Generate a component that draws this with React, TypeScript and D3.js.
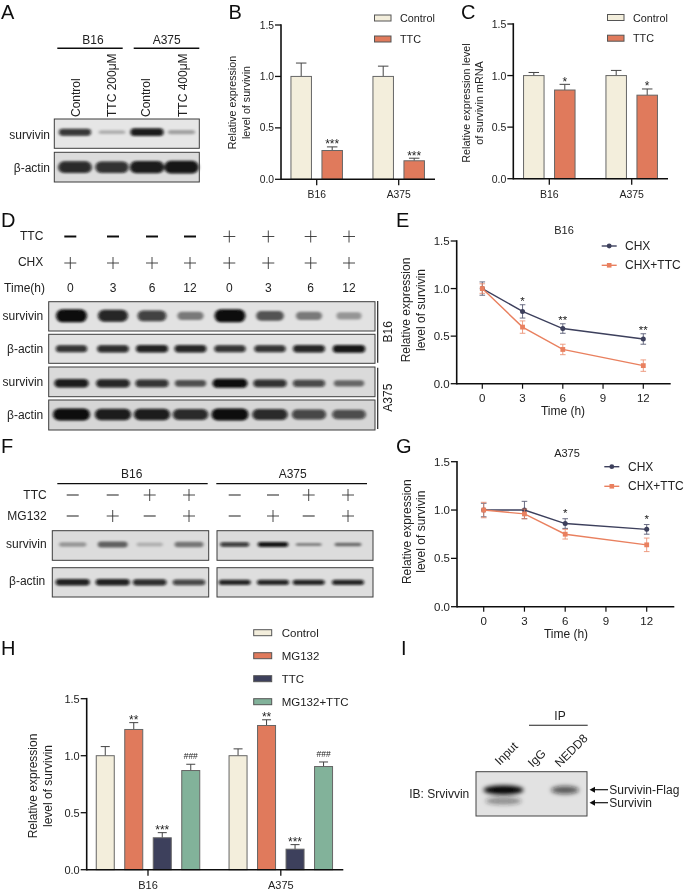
import React from 'react';
import * as d3 from 'd3';

// ---------- data ----------
const cellLines = ['B16', 'A375'];
const yTicks = [0, 0.5, 1, 1.5];
const timeTicks = [0, 3, 6, 9, 12];
const times = [0, 3, 6, 12];

const twoSeries = ['Control', 'TTC'];
const bControl = [1.0, 1.0];
const bControlErr = [0.13, 0.1];
const bTTC = [0.28, 0.18];
const bTTCErr = [0.035, 0.025];
const bSig = ['***', '***'];

const cControl = [1.0, 1.0];
const cControlErr = [0.03, 0.05];
const cTTC = [0.86, 0.81];
const cTTCErr = [0.055, 0.06];
const cSig = ['*', '*'];

const eCHX = [1.0, 0.76, 0.58, 0.47];
const eCHXErr = [0.07, 0.07, 0.05, 0.055];
const eTTC = [1.0, 0.595, 0.36, 0.19];
const eTTCErr = [0.05, 0.065, 0.055, 0.06];
const eSig = ['', '*', '**', '**'];

const gCHX = [1.0, 1.0, 0.86, 0.8];
const gCHXErr = [0.07, 0.09, 0.05, 0.05];
const gTTC = [1.0, 0.96, 0.75, 0.64];
const gTTCErr = [0.08, 0.05, 0.05, 0.07];
const gSig = ['', '', '*', '*'];

const fourSeries = ['Control', 'MG132', 'TTC', 'MG132+TTC'];
const hControl = [1.0, 1.0];
const hControlErr = [0.08, 0.06];
const hMG = [1.23, 1.265];
const hMGErr = [0.06, 0.05];
const hTTC = [0.28, 0.18];
const hTTCErr = [0.045, 0.04];
const hBoth = [0.87, 0.905];
const hBothErr = [0.055, 0.04];
const hSigMG = ['**', '**'];
const hSigTTC = ['***', '***'];
const hSigBoth = ['###', '###'];

// blot band densities (0..1), per lane
const aSurvivin = [0.8, 0.22, 0.92, 0.28];
const aActin = [0.85, 0.82, 0.92, 0.95];
const dTTC = ['-', '-', '-', '-', '+', '+', '+', '+'];
const dCHX = ['+', '+', '+', '+', '+', '+', '+', '+'];
const dTime = ['0', '3', '6', '12', '0', '3', '6', '12'];
const dB16Survivin = [1, 0.88, 0.75, 0.45, 1, 0.62, 0.45, 0.32];
const dB16Actin = [0.82, 0.85, 0.9, 0.88, 0.82, 0.82, 0.88, 0.95];
const dA375Survivin = [0.92, 0.88, 0.8, 0.62, 1, 0.82, 0.7, 0.52];
const dA375Actin = [1, 0.92, 0.92, 0.85, 1, 0.85, 0.72, 0.68];
const fTTC = ['-', '-', '+', '+'];
const fMG = ['-', '+', '-', '+'];
const fB16Survivin = [0.3, 0.55, 0.18, 0.45];
const fB16Actin = [0.9, 0.9, 0.85, 0.72];
const fA375Survivin = [0.78, 0.95, 0.4, 0.5];
const fA375Actin = [0.88, 0.88, 0.88, 0.88];

// ---------- style ----------
const FONT = '"Liberation Sans", Arial, sans-serif';
const INK = '#222';
const CREAM = '#F3EEDC';
const ORANGE = '#E07A5C';
const NAVY = '#3C3F5C';
const GREEN = '#82B29A';
const LINE_ORANGE = '#E9805F';

const T = ({ x, y, s = 12, a = 'start', r, c = INK, children }: any) => (
  <text
    x={x}
    y={y}
    fontSize={s}
    textAnchor={a}
    dominantBaseline="central"
    fill={c}
    transform={r ? `rotate(${r} ${x} ${y})` : undefined}
  >
    {children}
  </text>
);

const PanelLabel = ({ x, y, children }: any) => (
  <text x={x} y={y} fontSize={20} fill="#111">
    {children}
  </text>
);

const YAxis = ({ y, x0, fs }: any) => (
  <g>
    <line x1={x0} x2={x0} y1={y(1.5) - 0.8} y2={y(0) + 0.8} stroke="#111" strokeWidth={1.6} />
    {yTicks.map((t) => (
      <g key={t}>
        <line x1={x0 - 6} x2={x0} y1={y(t)} y2={y(t)} stroke="#111" strokeWidth={1.3} />
        <T x={x0 - 7} y={y(t)} s={fs} a="end">
          {d3.format('.1f')(t)}
        </T>
      </g>
    ))}
  </g>
);

const BarChart = ({ cx, x0, x1, yTop, yBase, series, spread, barW, fs, capW, sigFs }: any) => {
  const y = d3.scaleLinear().domain([0, 1.5]).range([yBase, yTop]);
  const gx = d3.scalePoint<string>().domain(cellLines).range(cx);
  const sx = d3
    .scalePoint<string>()
    .domain(series.map((s: any) => s.name))
    .range([-spread, spread]);
  return (
    <g>
      {series.map((s: any) =>
        cellLines.map((g, i) => {
          const c = (gx(g) as number) + (sx(s.name) as number);
          const top = y(s.values[i] + s.errs[i]);
          const sig = s.sig ? s.sig[i] : '';
          const hash = sig.startsWith('#');
          return (
            <g key={s.name + g}>
              <line x1={c} x2={c} y1={y(s.values[i])} y2={top} stroke="#444" strokeWidth={1} />
              <line x1={c - capW / 2} x2={c + capW / 2} y1={top} y2={top} stroke="#444" strokeWidth={1} />
              <rect
                x={c - barW / 2}
                y={y(s.values[i])}
                width={barW}
                height={y(0) - y(s.values[i])}
                fill={s.color}
                stroke="#666"
                strokeWidth={1}
              />
              {sig && (
                <text
                  x={c}
                  y={hash ? top - 5 : top + 1.5}
                  fontSize={hash ? 8.5 : sigFs}
                  textAnchor="middle"
                  fill={INK}
                >
                  {sig}
                </text>
              )}
            </g>
          );
        })
      )}
      <line x1={x0} x2={x1} y1={yBase} y2={yBase} stroke="#111" strokeWidth={1.6} />
      {cellLines.map((g) => (
        <g key={g}>
          <line x1={gx(g)} x2={gx(g)} y1={yBase} y2={yBase + 6} stroke="#111" strokeWidth={1.3} />
          <T x={gx(g)} y={yBase + 15} s={fs} a="middle">
            {g}
          </T>
        </g>
      ))}
      <YAxis y={y} x0={x0} fs={fs} />
    </g>
  );
};

const LegendSwatch = ({ x, y, w = 16.5, h = 6, color, label, tx, fs = 10.8 }: any) => (
  <g>
    <rect x={x} y={y - h / 2} width={w} height={h} fill={color} stroke="#555" strokeWidth={1} />
    <T x={tx} y={y} s={fs}>
      {label}
    </T>
  </g>
);

const LineChart = ({ x0, x1, xa, xb, yTop, yBase, series, sig, sigGap }: any) => {
  const y = d3.scaleLinear().domain([0, 1.5]).range([yBase, yTop]);
  const x = d3.scaleLinear().domain([0, 12]).range([xa, xb]);
  const line = d3
    .line<number>()
    .x((_, i) => x(times[i]))
    .y((v) => y(v));
  return (
    <g>
      {series.map((s: any) => (
        <g key={s.name}>
          {s.values.map((v: number, i: number) => (
            <g key={i} stroke={s.color} strokeWidth={0.9} opacity={0.85}>
              <line x1={x(times[i])} x2={x(times[i])} y1={y(v + s.errs[i])} y2={y(v - s.errs[i])} />
              <line x1={x(times[i]) - 2.8} x2={x(times[i]) + 2.8} y1={y(v + s.errs[i])} y2={y(v + s.errs[i])} />
              <line x1={x(times[i]) - 2.8} x2={x(times[i]) + 2.8} y1={y(v - s.errs[i])} y2={y(v - s.errs[i])} />
            </g>
          ))}
          <path d={line(s.values) as string} fill="none" stroke={s.color} strokeWidth={1.4} />
          {s.values.map((v: number, i: number) =>
            s.marker === 'circle' ? (
              <circle key={i} cx={x(times[i])} cy={y(v)} r={2.5} fill={s.color} />
            ) : (
              <rect key={i} x={x(times[i]) - 2.4} y={y(v) - 2.4} width={4.8} height={4.8} fill={s.color} />
            )
          )}
        </g>
      ))}
      {sig.map((m: string, i: number) =>
        m ? (
          <text
            key={i}
            x={x(times[i])}
            y={y(series[0].values[i] + series[0].errs[i]) + sigGap}
            fontSize={11.5}
            textAnchor="middle"
            fill={INK}
          >
            {m}
          </text>
        ) : null
      )}
      <line x1={x0} x2={x1} y1={yBase} y2={yBase} stroke="#111" strokeWidth={1.5} />
      {timeTicks.map((t) => (
        <g key={t}>
          <line x1={x(t)} x2={x(t)} y1={yBase} y2={yBase + 5} stroke="#111" strokeWidth={1.2} />
          <T x={x(t)} y={yBase + 14} s={11.5} a="middle">
            {t}
          </T>
        </g>
      ))}
      <YAxis y={y} x0={x0} fs={11.5} />
    </g>
  );
};

const LineLegend = ({ x, tx, y, color, marker, label }: any) => (
  <g>
    <line x1={x} x2={x + 15} y1={y} y2={y} stroke={color} strokeWidth={1.4} />
    {marker === 'circle' ? (
      <circle cx={x + 7.5} cy={y} r={2.4} fill={color} />
    ) : (
      <rect x={x + 5.2} y={y - 2.3} width={4.6} height={4.6} fill={color} />
    )}
    <T x={tx} y={y} s={12}>
      {label}
    </T>
  </g>
);

const AxisTitle = ({ x1, x2, y, lines, s = 12 }: any) => (
  <g>
    <T x={x1} y={y} s={s} a="middle" r={-90}>
      {lines[0]}
    </T>
    <T x={x2} y={y} s={s} a="middle" r={-90}>
      {lines[1]}
    </T>
  </g>
);

// width / height / opacity of a band follow its density
const bandW = d3.scaleLinear().domain([0, 1]).range([0.72, 1]);
const bandH = d3.scaleLinear().domain([0, 1]).range([0.35, 1]);
const bandO = d3.scaleLinear().domain([0, 1]).range([0.03, 1]);

const Blot = ({ x, y, w, h, lanes, values, maxW, maxH, bg = '#DEDEDE', dy = 0, blur = 'b1' }: any) => (
  <g>
    <rect x={x} y={y} width={w} height={h} fill={bg} />
    <g filter={`url(#${blur})`}>
      {values.map((v: number, i: number) => {
        const bw = bandW(v) * maxW;
        const bh = bandH(v) * maxH;
        return (
          <rect
            key={i}
            x={lanes[i] - bw / 2}
            y={y + h / 2 + dy - bh / 2}
            width={bw}
            height={bh}
            rx={bh / 2}
            fill="#0a0a0a"
            opacity={bandO(v)}
          />
        );
      })}
    </g>
    <rect x={x} y={y} width={w} height={h} fill="none" stroke="#3c3c3c" strokeWidth={1} />
  </g>
);

const Sign = ({ x, y, kind, size = 12, minusW = 2, color = '#333' }: any) => (
  <g>
    {kind === '-' ? (
      <line x1={x - size / 2} x2={x + size / 2} y1={y} y2={y} stroke={minusW > 1.5 ? '#111' : color} strokeWidth={minusW} />
    ) : (
      <g stroke={color} strokeWidth={0.9}>
        <line x1={x - size / 2} x2={x + size / 2} y1={y} y2={y} />
        <line x1={x} x2={x} y1={y - size / 2} y2={y + size / 2} />
      </g>
    )}
  </g>
);

const aLanes = [75, 112, 147, 181.5];
const dLanes = [71.5, 113, 152, 190.5, 230, 270, 309, 349];
const fLanesL = [72.7, 112.7, 149.7, 189];
const fLanesR = [234.7, 273, 308.7, 348];
const dSignLanes = [70.3, 113, 152, 190, 229.3, 268.3, 310.7, 349];

export default function App() {
  const bSeries = [
    { name: 'Control', values: bControl, errs: bControlErr, color: CREAM },
    { name: 'TTC', values: bTTC, errs: bTTCErr, color: ORANGE, sig: bSig },
  ];
  const cSeries = [
    { name: 'Control', values: cControl, errs: cControlErr, color: CREAM },
    { name: 'TTC', values: cTTC, errs: cTTCErr, color: ORANGE, sig: cSig },
  ];
  const hSeries = [
    { name: 'Control', values: hControl, errs: hControlErr, color: CREAM },
    { name: 'MG132', values: hMG, errs: hMGErr, color: ORANGE, sig: hSigMG },
    { name: 'TTC', values: hTTC, errs: hTTCErr, color: NAVY, sig: hSigTTC },
    { name: 'MG132+TTC', values: hBoth, errs: hBothErr, color: GREEN, sig: hSigBoth },
  ];
  const eSeries = [
    { name: 'CHX', values: eCHX, errs: eCHXErr, color: NAVY, marker: 'circle' },
    { name: 'CHX+TTC', values: eTTC, errs: eTTCErr, color: LINE_ORANGE, marker: 'square' },
  ];
  const gSeries = [
    { name: 'CHX', values: gCHX, errs: gCHXErr, color: NAVY, marker: 'circle' },
    { name: 'CHX+TTC', values: gTTC, errs: gTTCErr, color: LINE_ORANGE, marker: 'square' },
  ];

  return (
    <svg
      width={685}
      height={890}
      viewBox="0 0 685 890"
      style={{ position: 'absolute', left: 0, top: 0, background: '#fff', fontFamily: FONT }}
    >
      <defs>
        <filter id="b1" x="-20%" y="-60%" width="140%" height="220%">
          <feGaussianBlur stdDeviation="1.5 1.1" />
        </filter>
        <filter id="b2" x="-20%" y="-60%" width="140%" height="220%">
          <feGaussianBlur stdDeviation="2.2" />
        </filter>
        <filter id="soft" x="0" y="0" width="100%" height="100%">
          <feGaussianBlur stdDeviation="0.35" />
        </filter>
      </defs>
      <g filter="url(#soft)">
        <rect x={0} y={0} width={685} height={890} fill="#fff" />

        {/* A */}
        <PanelLabel x={1} y={18.5}>A</PanelLabel>
        <T x={93} y={40} s={12} a="middle">B16</T>
        <T x={166.7} y={40} s={12} a="middle">A375</T>
        <line x1={57.3} x2={122.7} y1={48.3} y2={48.3} stroke="#111" strokeWidth={1.5} />
        <line x1={133.7} x2={199.3} y1={48.3} y2={48.3} stroke="#111" strokeWidth={1.5} />
        {['Control', 'TTC 200μM', 'Control', 'TTC 400μM'].map((t, i) => (
          <T key={i} x={[76, 112, 146, 183.3][i]} y={117} s={12} r={-90}>
            {t}
          </T>
        ))}
        <Blot x={54.3} y={119} w={145} h={29.3} lanes={aLanes} values={aSurvivin} maxW={34} maxH={8} bg="#E6E6E6" dy={-1.5} />
        <Blot x={54.3} y={152.3} w={145} h={29.7} lanes={aLanes} values={aActin} maxW={35} maxH={13} bg="#DCDCDC" />
        <T x={50} y={135} a="end">survivin</T>
        <T x={50} y={167.5} a="end">β-actin</T>

        {/* B */}
        <PanelLabel x={228.5} y={18.5}>B</PanelLabel>
        <BarChart cx={[316.7, 398.7]} x0={281} x1={435} yTop={25} yBase={179.3} series={bSeries} spread={15.5} barW={20.5} fs={10.3} capW={10.5} sigFs={12} />
        <AxisTitle x1={232} x2={246} y={102.5} s={10.7} lines={['Relative expression', 'level of survivin']} />
        {twoSeries.map((s, i) => (
          <LegendSwatch key={s} x={374.5} y={18 + i * 21} color={bSeries[i].color} label={s} tx={400} />
        ))}

        {/* C */}
        <PanelLabel x={461} y={18.5}>C</PanelLabel>
        <BarChart cx={[549.3, 631.7]} x0={513.3} x1={668} yTop={24} yBase={178.7} series={cSeries} spread={15.5} barW={20.5} fs={10.5} capW={10.5} sigFs={12} />
        <AxisTitle x1={465.5} x2={479} y={103} s={10.8} lines={['Relative expression level', 'of survivin mRNA']} />
        {twoSeries.map((s, i) => (
          <LegendSwatch key={s} x={607.5} y={17.5 + i * 20.7} color={cSeries[i].color} label={s} tx={633} />
        ))}

        {/* D */}
        <PanelLabel x={1} y={226.5}>D</PanelLabel>
        <T x={43.3} y={236} a="end">TTC</T>
        <T x={43.3} y={262.3} a="end">CHX</T>
        <T x={45} y={288} a="end">Time(h)</T>
        {dSignLanes.map((x, i) => (
          <g key={i}>
            <Sign x={x} y={236.5} kind={dTTC[i]} />
            <Sign x={x} y={263} kind={dCHX[i]} />
            <T x={x} y={288} a="middle">{dTime[i]}</T>
          </g>
        ))}
        <Blot x={48.7} y={301.7} w={326.3} h={29.3} lanes={dLanes} values={dB16Survivin} maxW={31} maxH={13} bg="#E2E2E2" dy={-0.5} />
        <Blot x={48.7} y={334.3} w={326.3} h={29} lanes={dLanes} values={dB16Actin} maxW={33} maxH={8} bg="#E2E2E2" />
        <Blot x={48.7} y={367} w={326.3} h={29.7} lanes={dLanes} values={dA375Survivin} maxW={35} maxH={9} bg="#DADADA" dy={1.5} />
        <Blot x={48.7} y={400} w={326.3} h={30} lanes={dLanes} values={dA375Actin} maxW={37} maxH={12} bg="#D6D6D6" dy={-0.5} />
        <T x={43.3} y={316} a="end">survivin</T>
        <T x={43.3} y={349} a="end">β-actin</T>
        <T x={43.3} y={381.7} a="end">survivin</T>
        <T x={43.3} y={414.5} a="end">β-actin</T>
        <line x1={377.7} x2={377.7} y1={301} y2={362.7} stroke="#222" strokeWidth={1.2} />
        <line x1={377.7} x2={377.7} y1={367.7} y2={429} stroke="#222" strokeWidth={1.2} />
        <T x={388.3} y={331.7} a="middle" r={-90}>B16</T>
        <T x={388.3} y={397.7} a="middle" r={-90}>A375</T>

        {/* E */}
        <PanelLabel x={396} y={226.5}>E</PanelLabel>
        <T x={564} y={230} s={11} a="middle">B16</T>
        <LineChart x0={456.7} x1={670.7} xa={482.3} xb={643.3} yTop={241} yBase={383.7} series={eSeries} sig={eSig} sigGap={0.5} />
        <AxisTitle x1={406} x2={421} y={310} lines={['Relative expression', 'level of survivin']} />
        <T x={563} y={410.5} a="middle">Time (h)</T>
        <LineLegend x={601.7} tx={625} y={246} color={NAVY} marker="circle" label="CHX" />
        <LineLegend x={601.7} tx={625} y={265.3} color={LINE_ORANGE} marker="square" label="CHX+TTC" />

        {/* F */}
        <PanelLabel x={1} y={452.5}>F</PanelLabel>
        <T x={131.7} y={474} a="middle">B16</T>
        <T x={292.7} y={474} a="middle">A375</T>
        <line x1={57.3} x2={207.7} y1={483.7} y2={483.7} stroke="#111" strokeWidth={1.2} />
        <line x1={216.3} x2={367} y1={483.7} y2={483.7} stroke="#111" strokeWidth={1.2} />
        <T x={46.7} y={495} a="end">TTC</T>
        <T x={46.7} y={516} a="end">MG132</T>
        {[...fLanesL, ...fLanesR].map((x, i) => (
          <g key={i}>
            <Sign x={x} y={495} kind={fTTC[i % 4]} minusW={1.1} />
            <Sign x={x} y={516} kind={fMG[i % 4]} minusW={1.1} />
          </g>
        ))}
        <Blot x={52.3} y={530.7} w={156.4} h={29.6} lanes={fLanesL} values={fB16Survivin} maxW={34} maxH={8.5} bg="#DCDCDC" dy={-1} />
        <Blot x={217} y={530.7} w={156} h={29.6} lanes={fLanesR} values={fA375Survivin} maxW={31} maxH={5} bg="#DCDCDC" dy={-1} />
        <Blot x={52.3} y={567.7} w={156.4} h={29.3} lanes={fLanesL} values={fB16Actin} maxW={35} maxH={7} bg="#DEDEDE" />
        <Blot x={217} y={567.7} w={156} h={29.3} lanes={fLanesR} values={fA375Actin} maxW={33} maxH={5.5} bg="#DEDEDE" />
        <T x={46.7} y={544.3} a="end">survivin</T>
        <T x={45.3} y={581.3} a="end">β-actin</T>

        {/* G */}
        <PanelLabel x={396} y={453}>G</PanelLabel>
        <T x={567} y={453} s={11} a="middle">A375</T>
        <LineChart x0={457} x1={674.3} xa={483.7} xb={646.7} yTop={461.7} yBase={606.7} series={gSeries} sig={gSig} sigGap={-1.5} />
        <AxisTitle x1={406.7} x2={421} y={531.7} lines={['Relative expression', 'level of survivin']} />
        <T x={566} y={633.5} a="middle">Time (h)</T>
        <LineLegend x={604.3} tx={628} y={466.7} color={NAVY} marker="circle" label="CHX" />
        <LineLegend x={604.3} tx={628} y={486.3} color={LINE_ORANGE} marker="square" label="CHX+TTC" />

        {/* H */}
        <PanelLabel x={1} y={655}>H</PanelLabel>
        <BarChart cx={[148, 280.8]} x0={86.7} x1={343.3} yTop={698.7} yBase={869.7} series={hSeries} spread={42.75} barW={18} fs={11} capW={9} sigFs={12} />
        <AxisTitle x1={33} x2={48} y={786} lines={['Relative expression', 'level of survivin']} />
        {fourSeries.map((s, i) => (
          <LegendSwatch key={s} x={253.7} y={632.7 + i * 23} w={18} h={6} color={hSeries[i].color} label={s} tx={281.7} fs={11.5} />
        ))}

        {/* I */}
        <PanelLabel x={401} y={655}>I</PanelLabel>
        <T x={560} y={716} a="middle">IP</T>
        <line x1={529} x2={587.7} y1={725.3} y2={725.3} stroke="#222" strokeWidth={1.1} />
        <T x={497} y={763} r={-45}>Input</T>
        <T x={530} y={765} r={-45}>IgG</T>
        <T x={557} y={765} r={-45}>NEDD8</T>
        <rect x={476} y={771.7} width={111} height={44.3} fill="#E2E2E2" />
        <g filter="url(#b2)">
          <ellipse cx={503.5} cy={790} rx={20} ry={4.5} fill="#000" />
          <ellipse cx={503.5} cy={801} rx={18} ry={3.5} fill="#222" opacity={0.45} />
          <ellipse cx={565} cy={790} rx={14} ry={4} fill="#111" opacity={0.65} />
        </g>
        <rect x={476} y={771.7} width={111} height={44.3} fill="none" stroke="#444" strokeWidth={1} />
        <T x={469.3} y={794} a="end">IB: Srvivvin</T>
        {[789.7, 802.7].map((y) => (
          <g key={y}>
            <line x1={593} x2={608} y1={y} y2={y} stroke="#111" strokeWidth={1.2} />
            <path d={`M589.5 ${y} L595 ${y - 3} L595 ${y + 3} Z`} fill="#111" />
          </g>
        ))}
        <T x={609.3} y={789.7}>Survivin-Flag</T>
        <T x={609.3} y={802.7}>Survivin</T>
      </g>
    </svg>
  );
}
